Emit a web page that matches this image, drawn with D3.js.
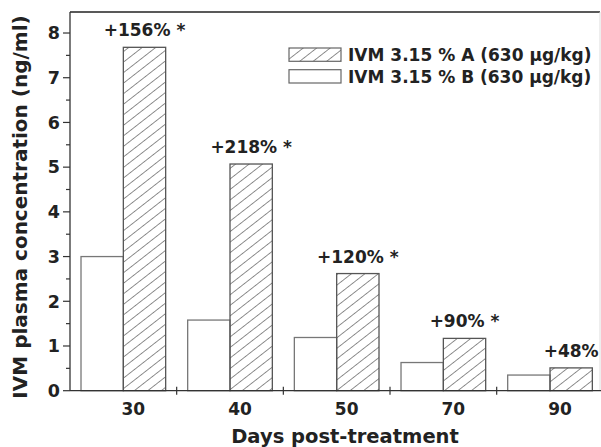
<!DOCTYPE html>
<html>
<head>
<meta charset="utf-8">
<script src="https://cdn.jsdelivr.net/npm/d3@7"></script>
<style>
  body { margin: 0; background: #fff; }
  text { font-family: "DejaVu Sans", sans-serif; font-weight: bold; fill: #222; }
</style>
</head>
<body>
<svg id="chart" width="601" height="447"></svg>
<script>
// values
var days = ["30", "40", "50", "70", "90"];
var seriesA = [7.68, 5.07, 2.62, 1.17, 0.51];   // hatched
var seriesB = [3.0, 1.58, 1.19, 0.63, 0.35];    // open
var increases = ["+156% *", "+218% *", "+120% *", "+90% *", "+48%"];
var yTicks = [0, 1, 2, 3, 4, 5, 6, 7, 8];
var legendLabels = ["IVM 3.15 % A (630 \u00b5g/kg)", "IVM 3.15 % B (630 \u00b5g/kg)"];

var svg = d3.select("#chart");
var mLeft = 70, mRight = 600, mTop = 12, mBottom = 390.7;

var x = d3.scaleBand().domain(days).range([mLeft, mLeft + 5 * 106.67]);
var xi = d3.scaleBand().domain(["B", "A"]).range([0, x.bandwidth()]).paddingOuter(0.26);
var y = d3.scaleLinear().domain([0, 8.47]).range([mBottom, mTop]);

// hatch pattern, "/" lines
var defs = svg.append("defs");
defs.append("pattern")
    .attr("id", "hatch")
    .attr("patternUnits", "userSpaceOnUse")
    .attr("width", 8.3).attr("height", 8.3)
    .attr("patternTransform", "rotate(52)")
  .append("line")
    .attr("x1", 0).attr("y1", 0).attr("x2", 0).attr("y2", 8.3)
    .attr("stroke", "#333").attr("stroke-width", 1.1);

var rows = days.map(function(d, i) {
  return {day: d, a: seriesA[i], b: seriesB[i], label: increases[i]};
});

var g = svg.append("g");
g.selectAll("rect.b").data(rows).enter().append("rect")
    .attr("class", "b")
    .attr("x", function(d) { return x(d.day) + xi("B"); })
    .attr("y", function(d) { return y(d.b); })
    .attr("width", xi.bandwidth())
    .attr("height", function(d) { return y(0) - y(d.b); })
    .attr("fill", "#fff").attr("stroke", "#777").attr("stroke-width", 1.3);

g.selectAll("rect.a").data(rows).enter().append("rect")
    .attr("class", "a")
    .attr("x", function(d) { return x(d.day) + xi("A"); })
    .attr("y", function(d) { return y(d.a); })
    .attr("width", xi.bandwidth())
    .attr("height", function(d) { return y(0) - y(d.a); })
    .attr("fill", "url(#hatch)").attr("stroke", "#555").attr("stroke-width", 1.3);

g.selectAll("text.pct").data(rows).enter().append("text")
    .attr("class", "pct")
    .attr("x", function(d) { return x(d.day) + xi("A") + xi.bandwidth() / 2; })
    .attr("y", function(d) { return y(d.a) - 11; })
    .attr("text-anchor", "middle")
    .style("font-size", "17px")
    .text(function(d) { return d.label; });

// frame
svg.append("line").attr("x1", mLeft).attr("x2", mRight).attr("y1", mTop).attr("y2", mTop)
    .attr("stroke", "#222").attr("stroke-width", 1.3);
svg.append("line").attr("x1", mRight).attr("x2", mRight).attr("y1", mTop).attr("y2", mBottom)
    .attr("stroke", "#ddd").attr("stroke-width", 1);

// y axis
var yAxis = svg.append("g").attr("transform", "translate(" + mLeft + ",0)");
yAxis.append("line").attr("x1", 0).attr("x2", 0).attr("y1", mTop).attr("y2", mBottom)
    .attr("stroke", "#333").attr("stroke-width", 1.3);
yAxis.selectAll("line.minor").data(d3.range(0.5, 8.5, 1)).enter().append("line")
    .attr("class", "minor")
    .attr("x1", -4).attr("x2", 0)
    .attr("y1", function(d) { return y(d); }).attr("y2", function(d) { return y(d); })
    .attr("stroke", "#333").attr("stroke-width", 1.2);
yAxis.selectAll("line.major").data(yTicks).enter().append("line")
    .attr("class", "major")
    .attr("x1", -7).attr("x2", 0)
    .attr("y1", function(d) { return y(d); }).attr("y2", function(d) { return y(d); })
    .attr("stroke", "#333").attr("stroke-width", 1.2);
yAxis.selectAll("text").data(yTicks).enter().append("text")
    .attr("x", -10).attr("y", function(d) { return y(d); })
    .attr("dy", "0.36em").attr("text-anchor", "end")
    .style("font-size", "17.5px")
    .text(function(d) { return d; });

// x axis
var xAxis = svg.append("g");
xAxis.append("line").attr("x1", mLeft).attr("x2", 601).attr("y1", mBottom).attr("y2", mBottom)
    .attr("stroke", "#333").attr("stroke-width", 1.3);
xAxis.selectAll("line.tick").data(days.slice(1)).enter().append("line")
    .attr("class", "tick")
    .attr("x1", function(d) { return x(d); }).attr("x2", function(d) { return x(d); })
    .attr("y1", mBottom - 4).attr("y2", mBottom + 4)
    .attr("stroke", "#333").attr("stroke-width", 1.2);
xAxis.selectAll("text").data(days).enter().append("text")
    .attr("x", function(d) { return x(d) + x.bandwidth() / 2 + 10; })
    .attr("y", 415)
    .attr("text-anchor", "middle")
    .style("font-size", "17px")
    .text(function(d) { return d; });

// axis titles
svg.append("text")
    .attr("x", 345).attr("y", 443)
    .attr("text-anchor", "middle")
    .style("font-size", "19.5px")
    .text("Days post-treatment");
svg.append("text")
    .attr("transform", "translate(27,207) rotate(-90)")
    .attr("text-anchor", "middle")
    .style("font-size", "20px")
    .text("IVM plasma concentration (ng/ml)");

// legend
var legend = svg.append("g").attr("transform", "translate(289,48)");
var items = legend.selectAll("g").data(legendLabels).enter().append("g")
    .attr("transform", function(d, i) { return "translate(0," + i * 21.7 + ")"; });
items.append("rect")
    .attr("width", 52).attr("height", 13.3)
    .attr("fill", function(d, i) { return i === 0 ? "url(#hatch)" : "#fff"; })
    .attr("stroke", "#666").attr("stroke-width", 1.2);
items.append("text")
    .attr("x", 59).attr("y", 6.7).attr("dy", "0.36em")
    .style("font-size", "17px")
    .text(function(d) { return d; });
</script>
</body>
</html>
